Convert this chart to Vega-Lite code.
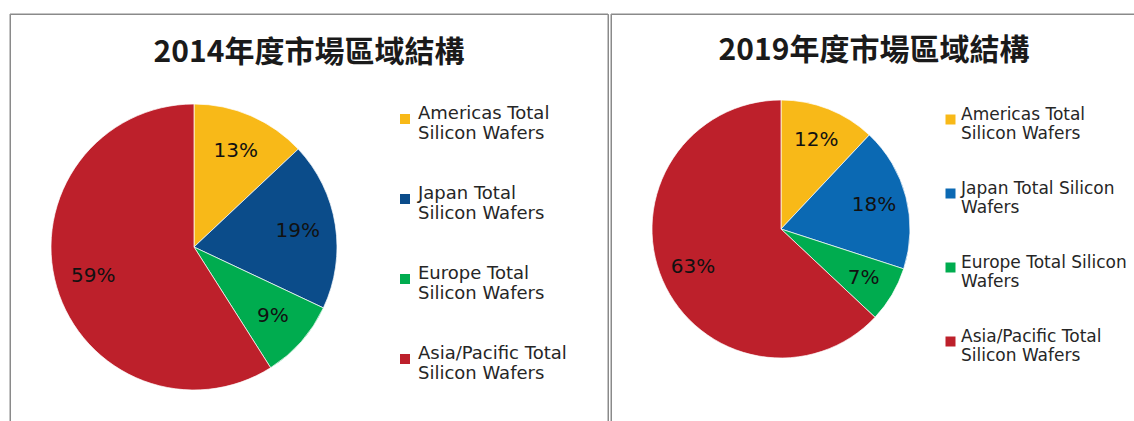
{
  "$schema": "https://vega.github.io/schema/vega-lite/v6.json",
  "background": "white",
  "padding": {"left": 9, "top": 13, "right": 0, "bottom": 0},
  "spacing": 1,
  "config": {
    "view": {"stroke": "#8a8a8a", "strokeWidth": 1},
    "title": {"font": "Noto Sans CJK TC", "fontSize": 30, "fontWeight": "bold", "color": "#1a1a1a", "anchor": "middle"},
    "legend": {"labelFont": "DejaVu Sans", "labelFontSize": 18, "labelColor": "#262626", "symbolType": "square", "symbolSize": 100, "symbolStrokeWidth": 0, "padding": 0, "labelLimit": 300, "labelBaseline": "alphabetic"}
  },
  "datasets": {
    "y2014": [
      {"region": "Americas Total Silicon Wafers", "share": 0.13, "rank": 1},
      {"region": "Japan Total Silicon Wafers", "share": 0.19, "rank": 2},
      {"region": "Europe Total Silicon Wafers", "share": 0.09, "rank": 3},
      {"region": "Asia/Pacific Total Silicon Wafers", "share": 0.59, "rank": 4}
    ],
    "y2019": [
      {"region": "Americas Total Silicon Wafers", "share": 0.12, "rank": 1},
      {"region": "Japan Total Silicon Wafers", "share": 0.18, "rank": 2},
      {"region": "Europe Total Silicon Wafers", "share": 0.07, "rank": 3},
      {"region": "Asia/Pacific Total Silicon Wafers", "share": 0.63, "rank": 4}
    ],
    "frame": [{}]
  },
  "resolve": {"scale": {"color": "independent"}, "legend": {"color": "independent"}},
  "hconcat": [
    {
      "width": 598,
      "height": 408,
      "view": {"stroke": "#8a8a8a", "strokeWidth": 1},
      "title": {"text": "2014年度市場區域結構", "offset": -54},
      "layer": [
        {
          "data": {"name": "y2014"},
          "mark": {"type": "arc", "radius": 143, "stroke": "white", "strokeWidth": 0.7, "x": 184, "y": 233},
          "encoding": {
            "theta": {"field": "share", "type": "quantitative", "stack": true},
            "order": {"field": "rank", "type": "quantitative"},
            "color": {
              "field": "region", "type": "nominal",
              "scale": {"domain": ["Americas Total Silicon Wafers", "Japan Total Silicon Wafers", "Europe Total Silicon Wafers", "Asia/Pacific Total Silicon Wafers"],
                        "range": ["#F8B918", "#0B4C8A", "#00AC4F", "#BD202B"]},
              "legend": {"title": null, "orient": "none", "legendX": 386, "legendY": 96, "rowPadding": 42, "labelOffset": 4,
                         "labelExpr": "split(replace(datum.label, 'Total ', 'Total|'), '|')"}
            }
          }
        },
        {
          "data": {"name": "y2014"},
          "mark": {"type": "text", "radius": 105, "font": "DejaVu Sans", "fontSize": 20, "color": "#111", "x": 184, "y": 233},
          "encoding": {
            "theta": {"field": "share", "type": "quantitative", "stack": true},
            "order": {"field": "rank", "type": "quantitative"},
            "text": {"field": "share", "type": "quantitative", "format": ".0%"}
          }
        },
        {
          "data": {"name": "frame"},
          "mark": {"type": "rect", "filled": false, "stroke": "#8a8a8a", "strokeWidth": 1},
          "encoding": {}
        }
      ]
    },
    {
      "width": 526,
      "height": 408,
      "view": {"stroke": "#8a8a8a", "strokeWidth": 1},
      "title": {"text": "2019年度市場區域結構", "offset": -52},
      "layer": [
        {
          "data": {"name": "y2019"},
          "mark": {"type": "arc", "radius": 129, "stroke": "white", "strokeWidth": 0.7, "x": 170, "y": 215},
          "encoding": {
            "theta": {"field": "share", "type": "quantitative", "stack": true},
            "order": {"field": "rank", "type": "quantitative"},
            "color": {
              "field": "region", "type": "nominal",
              "scale": {"domain": ["Americas Total Silicon Wafers", "Japan Total Silicon Wafers", "Europe Total Silicon Wafers", "Asia/Pacific Total Silicon Wafers"],
                        "range": ["#F8B918", "#0B69B3", "#00AC4F", "#BD202B"]},
              "legend": {"title": null, "orient": "none", "legendX": 331, "legendY": 97, "rowPadding": 37, "labelOffset": 2, "labelFontSize": 17,
                         "labelExpr": "(datum.label == 'Japan Total Silicon Wafers' || datum.label == 'Europe Total Silicon Wafers') ? split(replace(datum.label, 'Silicon ', 'Silicon|'), '|') : split(replace(datum.label, 'Total ', 'Total|'), '|')"}
            }
          }
        },
        {
          "data": {"name": "y2019"},
          "mark": {"type": "text", "radius": 96, "font": "DejaVu Sans", "fontSize": 20, "color": "#111", "x": 170, "y": 215},
          "encoding": {
            "theta": {"field": "share", "type": "quantitative", "stack": true},
            "order": {"field": "rank", "type": "quantitative"},
            "text": {"field": "share", "type": "quantitative", "format": ".0%"}
          }
        },
        {
          "data": {"name": "frame"},
          "mark": {"type": "rect", "filled": false, "stroke": "#8a8a8a", "strokeWidth": 1},
          "encoding": {}
        }
      ]
    }
  ]
}
